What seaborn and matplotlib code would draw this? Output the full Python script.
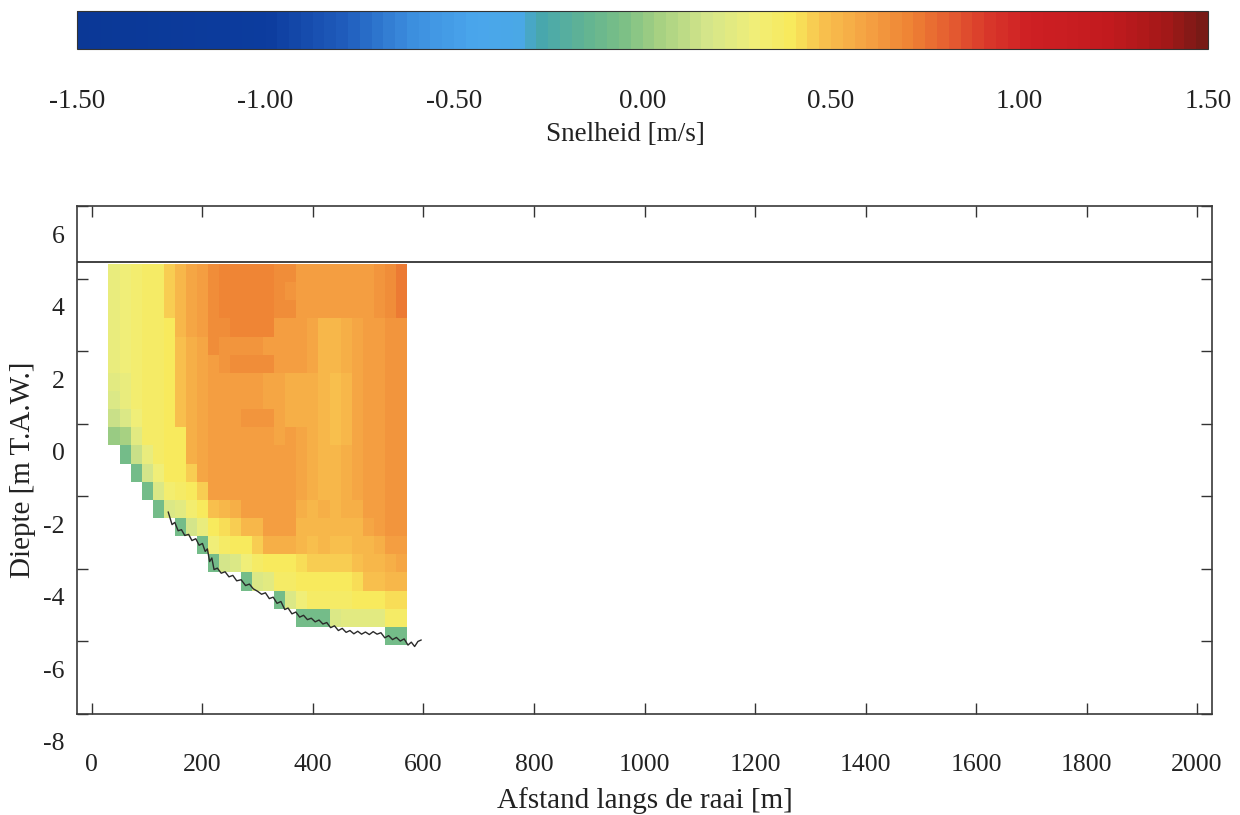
import numpy as np
import matplotlib
matplotlib.use("Agg")
import matplotlib.pyplot as plt
import matplotlib.transforms as mtransforms
from matplotlib.colors import LinearSegmentedColormap
import seaborn as sns

# cell grid of the ADCP transect: 20 m columns from 30 to 570 m, 0.5 m rows from 4.4 to -6.1 m TAW
cell_x0, cell_dx = 30, 20
cell_ztop, cell_dz = 4.4, 0.5
water_level = 4.45

N = np.nan
# velocity [m/s], one list per depth row (top row first), one value per 20 m column
velocity = [
    [.28, .30, .33, .36, .37, .44, .50, .58, .62, .66, .70, .70, .70, .70, .70, .68, .66, .62, .62, .62, .62, .60, .62, .62, .64, .66, .72],
    [.28, .30, .33, .36, .37, .44, .50, .58, .62, .67, .70, .70, .70, .70, .70, .68, .65, .62, .62, .62, .62, .60, .62, .62, .64, .66, .72],
    [.28, .30, .33, .36, .37, .44, .50, .58, .62, .66, .70, .70, .70, .70, .70, .68, .66, .62, .62, .62, .62, .60, .62, .62, .64, .66, .72],
    [.28, .30, .33, .36, .37, .40, .50, .58, .62, .66, .66, .70, .70, .70, .70, .62, .60, .60, .58, .53, .52, .55, .58, .60, .62, .63, .65],
    [.28, .30, .33, .36, .37, .40, .47, .55, .57, .66, .64, .65, .64, .64, .62, .62, .60, .60, .58, .53, .52, .55, .58, .60, .62, .63, .65],
    [.26, .30, .33, .36, .37, .40, .47, .55, .57, .60, .64, .66, .66, .66, .66, .62, .60, .60, .58, .53, .52, .55, .58, .60, .62, .63, .65],
    [.24, .28, .33, .36, .37, .40, .47, .55, .57, .60, .60, .60, .60, .60, .58, .57, .55, .55, .56, .52, .48, .50, .58, .60, .62, .63, .65],
    [.20, .26, .33, .36, .37, .40, .47, .55, .57, .60, .60, .60, .60, .60, .58, .57, .55, .55, .56, .52, .48, .50, .58, .60, .62, .63, .65],
    [.14, .20, .30, .36, .37, .40, .47, .55, .57, .60, .60, .60, .65, .65, .64, .57, .55, .55, .56, .52, .48, .50, .58, .60, .62, .63, .65],
    [.00, .05, .22, .36, .37, .40, .40, .55, .57, .60, .60, .60, .60, .60, .62, .57, .60, .58, .56, .52, .48, .50, .58, .60, .62, .63, .65],
    [N, -.08, .15, .26, .37, .40, .40, .55, .57, .60, .60, .60, .60, .60, .62, .62, .60, .58, .55, .52, .50, .55, .58, .60, .62, .63, .65],
    [N, N, -.08, .18, .30, .38, .40, .45, .57, .60, .60, .60, .60, .60, .62, .62, .60, .58, .55, .52, .50, .55, .58, .60, .62, .63, .65],
    [N, N, N, -.08, .20, .32, .36, .38, .45, .60, .60, .60, .60, .60, .62, .62, .60, .58, .55, .52, .50, .55, .58, .60, .62, .63, .65],
    [N, N, N, N, -.08, .20, .24, .32, .38, .48, .52, .55, .60, .60, .62, .62, .60, .55, .53, .55, .52, .55, .55, .60, .62, .63, .65],
    [N, N, N, N, N, N, -.08, .18, .28, .38, .42, .45, .50, .50, .60, .62, .60, .50, .50, .50, .50, .50, .52, .58, .60, .63, .65],
    [N, N, N, N, N, N, N, N, -.08, .30, .36, .38, .40, .45, .55, .55, .55, .50, .48, .50, .48, .48, .50, .52, .55, .60, .62],
    [N, N, N, N, N, N, N, N, N, -.08, .18, .20, .30, .37, .40, .40, .40, .42, .45, .46, .46, .45, .47, .50, .52, .55, .57],
    [N, N, N, N, N, N, N, N, N, N, N, N, -.08, .20, .22, .36, .37, .38, .38, .40, .40, .40, .42, .47, .48, .50, .50],
    [N, N, N, N, N, N, N, N, N, N, N, N, N, N, N, -.08, .20, .30, .36, .36, .37, .37, .38, .40, .40, .42, .42],
    [N, N, N, N, N, N, N, N, N, N, N, N, N, N, N, N, N, -.08, -.08, -.08, .20, .22, .22, .22, .24, .36, .36],
    [N, N, N, N, N, N, N, N, N, N, N, N, N, N, N, N, N, N, N, N, N, N, N, N, N, -.08, -.08],
]

# measured bed profile
bed_x = [138, 145, 150, 156, 162, 168, 175, 181, 188, 194, 200, 205, 209, 213, 217, 221, 227, 234,
         241, 248, 255, 262, 270, 278, 285, 292, 300, 307, 314, 321, 328, 335, 342, 349, 355, 362,
         369, 376, 383, 390, 397, 404, 411, 418, 425, 432, 439, 446, 453, 460, 467, 474, 481, 488,
         495, 502, 509, 516, 523, 530, 537, 544, 551, 558, 565, 572, 578, 584, 590, 596]
bed_z = [-2.43, -2.78, -2.72, -2.95, -2.92, -3.08, -3.05, -3.22, -3.17, -3.35, -3.30, -3.52, -3.45,
         -3.80, -3.70, -4.02, -3.98, -4.12, -4.08, -4.22, -4.18, -4.33, -4.30, -4.46, -4.42, -4.55,
         -4.62, -4.70, -4.66, -4.82, -4.78, -4.95, -4.90, -5.12, -5.08, -5.24, -5.19, -5.33, -5.28,
         -5.40, -5.36, -5.46, -5.41, -5.52, -5.48, -5.62, -5.57, -5.70, -5.64, -5.75, -5.70, -5.79,
         -5.72, -5.80, -5.74, -5.81, -5.73, -5.80, -5.76, -5.90, -5.84, -5.95, -5.89, -5.99, -5.93,
         -6.10, -6.02, -6.14, -6.00, -5.96]

cbar_ticks = [-1.5, -1.0, -0.5, 0.0, 0.5, 1.0, 1.5]
x_ticks = list(range(0, 2001, 200))
y_ticks = list(range(-8, 7, 2))

# colour scale as in the Tecplot legend
cmap_stops = [
    (-1.50, "#0b3896"), (-1.00, "#0c3c9e"), (-0.80, "#1f5cbc"), (-0.62, "#3c8ede"),
    (-0.45, "#4aa6ec"), (-0.33, "#4aa8e6"), (-0.28, "#46a6b0"), (-0.15, "#62b492"),
    (-0.05, "#7cbf86"), (0.05, "#a8d282"), (0.18, "#d6e68a"), (0.30, "#f0ee78"),
    (0.40, "#f8ea5c"), (0.48, "#f8c24e"), (0.60, "#f5a243"), (0.72, "#ee8234"),
    (0.83, "#e45a30"), (0.93, "#d8362a"), (1.03, "#cf2024"), (1.25, "#c21a1e"),
    (1.40, "#a41818"), (1.50, "#781a16"),
]


def main():
    sns.set_style("ticks")
    plt.rcParams["font.family"] = ["Liberation Serif", "DejaVu Serif"]
    plt.rcParams["axes.unicode_minus"] = False

    cmap = LinearSegmentedColormap.from_list(
        "snelheid", [((v + 1.5) / 3.0, c) for v, c in cmap_stops], N=96)

    W, H = 1240, 815
    fig = plt.figure(figsize=(W / 100, H / 100), dpi=100)
    ax = fig.add_axes([77 / W, 1 - 714 / H, 1135 / W, 508 / H])
    cax = fig.add_axes([77 / W, 1 - 49 / H, 1131 / W, 38 / H])

    ax.set_xlim(-27, 2027)
    ax.set_ylim(-8, 6)

    grid = np.array(velocity, dtype=float)
    n_rows, n_cols = grid.shape
    hm_ax = ax.inset_axes([cell_x0, cell_ztop - n_rows * cell_dz, n_cols * cell_dx, n_rows * cell_dz],
                          transform=ax.transData)
    sns.heatmap(grid, ax=hm_ax, cmap=cmap, vmin=-1.5, vmax=1.5, cbar_ax=cax,
                cbar_kws={"orientation": "horizontal", "ticks": cbar_ticks})
    hm_ax.axis("off")

    ax.axhline(water_level, color="#333333", lw=1.3, zorder=6)
    sns.lineplot(x=bed_x, y=bed_z, ax=ax, color="#2a2a2a", lw=1.0, sort=False,
                 estimator=None, zorder=7)

    ax.set_xticks(x_ticks)
    ax.set_yticks(y_ticks)
    ax.tick_params(direction="in", length=8, width=1, colors="#333333", labelcolor="#222222",
                   labelsize=18.5, top=True, right=True)
    ax.tick_params(axis="x", pad=29)
    ax.tick_params(axis="y", pad=9)
    # depth labels sit a little below their tick marks in the original print
    shift = mtransforms.ScaledTranslation(0, -0.28, fig.dpi_scale_trans)
    for lab in ax.get_yticklabels():
        lab.set_transform(lab.get_transform() + shift)

    for sp in ax.spines.values():
        sp.set_color("#3a3a3a")
        sp.set_linewidth(1.2)

    ax.set_xlabel("Afstand langs de raai [m]", fontsize=21, labelpad=8, color="#222222")
    ax.set_ylabel("Diepte [m T.A.W.]", fontsize=21, color="#222222")
    ax.yaxis.set_label_coords(-0.036, 0.48)

    cbar = hm_ax.collections[0].colorbar
    cbar.set_ticks(cbar_ticks)
    cbar.set_ticklabels([f"{v:.2f}" for v in cbar_ticks])
    cbar.ax.tick_params(length=0, pad=29, labelsize=19.5, labelcolor="#222222")
    cbar.outline.set_edgecolor("#333333")
    cbar.outline.set_linewidth(0.8)
    cbar.set_label("Snelheid [m/s]", fontsize=19.5, color="#222222")
    cbar.ax.xaxis.set_label_coords(0.485, -1.93)

    fig.savefig("out.png", dpi=100)
    plt.close(fig)


if __name__ == "__main__":
    main()
